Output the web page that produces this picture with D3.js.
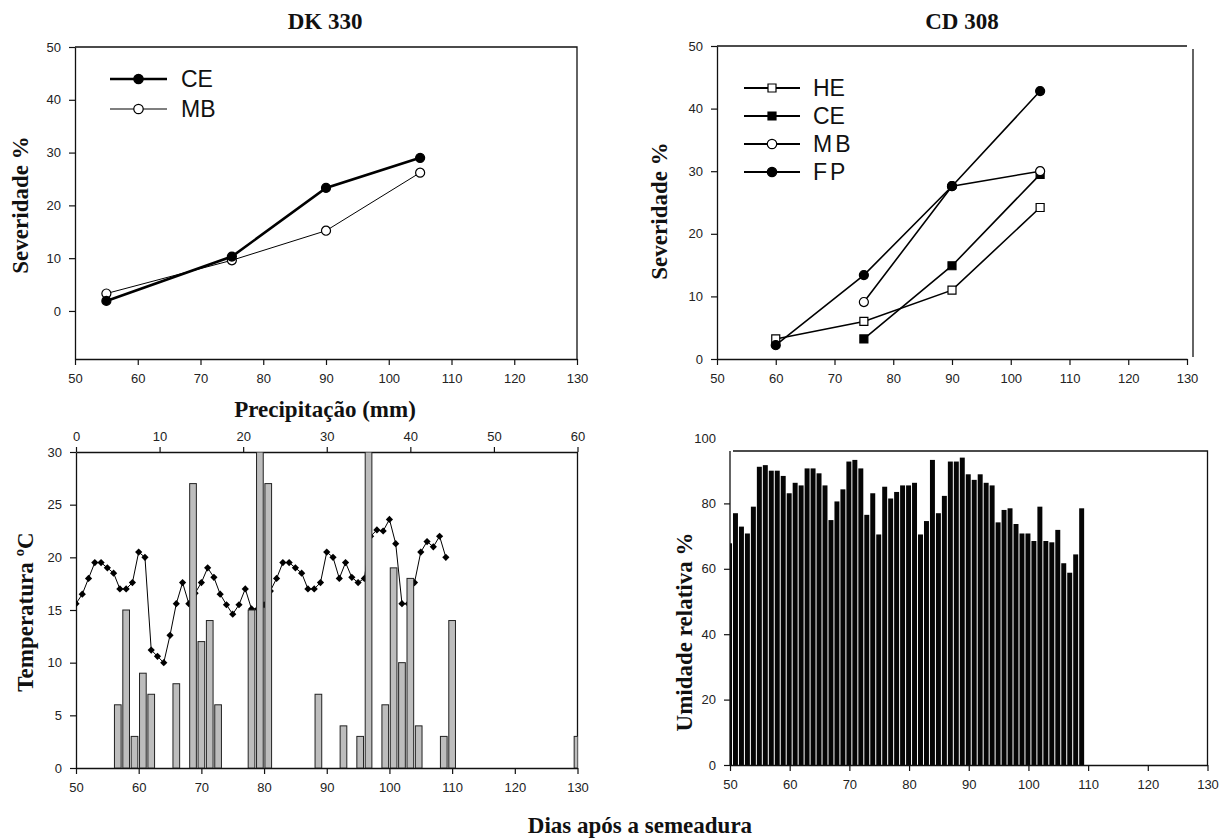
<!DOCTYPE html>
<html>
<head>
<meta charset="utf-8">
<script src="https://cdn.jsdelivr.net/npm/d3@7"></script>
<style>
body { margin: 0; background: #fff; }
.ttl { font-family: "Liberation Serif", "Times New Roman", serif; font-weight: bold; font-size: 23px; fill: #111; }
.leg { font-family: "Liberation Sans", Arial, sans-serif; font-size: 23px; fill: #111; }
</style>
</head>
<body>
<svg id="c" width="1228" height="838"></svg>
<script>
// severidade DK 330
var dkDias = [55, 75, 90, 105];
var dkCE = [1.9, 10.3, 23.3, 29.0];
var dkMB = [3.3, 9.6, 15.2, 26.2];

// severidade CD 308
var cdDias = [60, 75, 90, 105];
var cdHE = [3.2, 6.0, 11.0, 24.2];
var cdCE = [null, 3.2, 14.9, 29.5];
var cdMB = [null, 9.1, 27.6, 30.0];
var cdFP = [2.2, 13.4, 27.6, 42.8];

// temperatura diaria (dias apos semeadura)
var tDias = [50, 51, 52, 53, 54, 55, 56, 57, 58, 59, 60, 61, 62, 63, 64, 65, 66, 67, 68, 69,
             70, 71, 72, 73, 74, 75, 76, 77, 78, 79, 80, 81, 82, 83, 84, 85, 86, 87, 88, 89,
             90, 91, 92, 93, 94, 95, 96, 97, 98, 99, 100, 101, 102, 103, 104, 105, 106, 107, 108, 109];
var tempC = [15.6, 16.5, 18.0, 19.5, 19.5, 19.0, 18.5, 17.0, 17.0, 17.6, 20.5, 20.0, 11.2, 10.6, 10.0, 12.6, 15.6, 17.6, 15.6, 16.6,
             17.6, 19.0, 18.1, 16.5, 15.5, 14.6, 15.5, 17.0, 15.1, 15.1, 15.5, 16.8, 18.0, 19.5, 19.5, 19.0, 18.5, 17.0, 17.0, 17.6,
             20.5, 20.0, 18.0, 19.5, 18.1, 17.6, 18.0, 22.0, 22.6, 22.5, 23.6, 21.3, 15.6, 15.6, 17.6, 20.5, 21.5, 21.0, 22.0, 20.0];

// precipitacao (eixo superior)
var chuvaPos = [5, 6, 7, 8, 9, 12, 14, 15, 16, 17, 21, 22, 23, 29, 32, 34, 35, 37, 38, 39, 40, 41, 44, 45, 60];
var chuvaMm = [6, 15, 3, 9, 7, 8, 27, 12, 14, 6, 15, 30, 27, 7, 4, 3, 30, 6, 19, 10, 18, 4, 3, 14, 3];

// umidade relativa
var uDias = tDias;
var umid = [67.8, 77.0, 72.9, 70.8, 79.0, 91.2, 91.7, 90.0, 90.0, 88.4, 83.1, 86.3, 85.5, 90.7, 90.7, 89.2, 85.5, 74.9, 80.6, 84.3,
            92.8, 93.3, 90.7, 76.5, 83.1, 70.5, 85.1, 81.5, 83.5, 85.5, 85.5, 86.3, 70.5, 74.6, 93.3, 77.0, 82.3, 92.8, 92.8, 94.0,
            88.9, 87.2, 88.9, 86.3, 85.5, 74.2, 78.0, 78.5, 73.7, 70.8, 70.8, 68.5, 79.0, 68.5, 68.1, 71.9, 61.7, 58.8, 64.4, 78.5];

var diasTicks = [50, 60, 70, 80, 90, 100, 110, 120, 130];
var sevTicks = [0, 10, 20, 30, 40, 50];
var chuvaTicks = [0, 10, 20, 30, 40, 50, 60];
var tempTicks = [0, 5, 10, 15, 20, 25, 30];
var umidTicks = [0, 20, 40, 60, 80, 100];

var svg = d3.select("#c");

function estilo(g) {
    g.selectAll("path.domain").attr("stroke", "#111").attr("stroke-width", 1.3);
    g.selectAll(".tick line").attr("stroke", "#111").attr("stroke-width", 1.2);
    g.selectAll(".tick text").attr("fill", "#222").style("font-size", "13px")
        .style("font-family", '"Liberation Sans", Arial, sans-serif');
}

function borda(g, d) {
    g.append("path").attr("d", d).attr("fill", "none").attr("stroke", "#111").attr("stroke-width", 1.3);
}

function marca(g, tipo, cheio, x, y, tam) {
    var s = g.append("path").attr("transform", "translate(" + x + "," + y + ")")
        .attr("d", d3.symbol().type(tipo).size(tam)())
        .attr("fill", cheio ? "#000" : "#fff").attr("stroke", "#000").attr("stroke-width", 1.2);
    return s;
}

function serie(g, xs, ys, xsc, ysc, larg, tipo, cheio, tam) {
    var pts = xs.map(function(d, i) { return [d, ys[i]]; }).filter(function(p) { return p[1] != null; });
    g.append("path").datum(pts)
        .attr("d", d3.line().x(function(p) { return xsc(p[0]); }).y(function(p) { return ysc(p[1]); }))
        .attr("fill", "none").attr("stroke", "#000").attr("stroke-width", larg);
    pts.forEach(function(p) { marca(g, tipo, cheio, xsc(p[0]), ysc(p[1]), tam); });
}

function legenda(g, itens, x0, x1, xt, ys) {
    itens.forEach(function(it, i) {
        g.append("line").attr("x1", x0).attr("x2", x1).attr("y1", ys[i]).attr("y2", ys[i])
            .attr("stroke", "#000").attr("stroke-width", it.larg);
        marca(g, it.tipo, it.cheio, (x0 + x1) / 2, ys[i], it.tam);
        g.append("text").attr("class", "leg").attr("x", xt).attr("y", ys[i]).attr("dy", "0.36em")
            .style("letter-spacing", it.esp || "0px").text(it.nome);
    });
}

function rotulo(x, y, txt, rot) {
    var t = svg.append("text").attr("class", "ttl").attr("text-anchor", "middle");
    if (rot) {
        t.attr("transform", "translate(" + x + "," + y + ") rotate(-90)");
    } else {
        t.attr("x", x).attr("y", y);
    }
    t.text(txt);
}

// ---- DK 330 ----
var x1 = d3.scaleLinear().domain([50, 130]).range([75, 577]);
var y1 = d3.scaleLinear().domain([-9.1, 50]).range([359, 47]);
var g1 = svg.append("g");
borda(g1, "M" + x1(50) + "," + y1(50) + "H" + x1(130) + "V" + y1(-9.1));
g1.append("g").attr("transform", "translate(0," + y1(-9.1) + ")")
    .call(d3.axisBottom(x1).tickValues(diasTicks).tickSize(6).tickPadding(9).tickSizeOuter(0)).call(estilo);
g1.append("g").attr("transform", "translate(" + x1(50) + ",0)")
    .call(d3.axisLeft(y1).tickValues(sevTicks).tickSize(6).tickPadding(8).tickSizeOuter(0)).call(estilo);
serie(g1, dkDias, dkMB, x1, y1, 1, d3.symbolCircle, false, 64);
serie(g1, dkDias, dkCE, x1, y1, 2.6, d3.symbolCircle, true, 64);
legenda(g1, [
    {nome: "CE", tipo: d3.symbolCircle, cheio: true, larg: 2.6, tam: 70},
    {nome: "MB", tipo: d3.symbolCircle, cheio: false, larg: 1.2, tam: 70}
], 110, 167, 181, [79, 109]);
rotulo(325, 29, "DK 330");
rotulo(325, 417, "Precipitação (mm)");
rotulo(28, 205, "Severidade %", true);

// ---- CD 308 ----
var x2 = d3.scaleLinear().domain([50, 130]).range([717, 1187]);
var y2 = d3.scaleLinear().domain([0, 50]).range([359, 46]);
var g2 = svg.append("g");
borda(g2, "M" + x2(50) + "," + y2(50) + "H" + x2(130));
borda(g2, "M" + (x2(130) + 6) + "," + (y2(50) + 3) + "V" + (y2(0) - 2));
g2.append("g").attr("transform", "translate(0," + y2(0) + ")")
    .call(d3.axisBottom(x2).tickValues(diasTicks).tickSize(6).tickPadding(9).tickSizeOuter(0)).call(estilo);
g2.append("g").attr("transform", "translate(" + x2(50) + ",0)")
    .call(d3.axisLeft(y2).tickValues(sevTicks).tickSize(6).tickPadding(8).tickSizeOuter(0)).call(estilo);
serie(g2, cdDias, cdHE, x2, y2, 1.6, d3.symbolSquare, false, 64);
serie(g2, cdDias, cdCE, x2, y2, 1.6, d3.symbolSquare, true, 64);
serie(g2, cdDias, cdMB, x2, y2, 1.6, d3.symbolCircle, false, 64);
serie(g2, cdDias, cdFP, x2, y2, 1.6, d3.symbolCircle, true, 64);
legenda(g2, [
    {nome: "HE", tipo: d3.symbolSquare, cheio: false, larg: 1.8, tam: 64},
    {nome: "CE", tipo: d3.symbolSquare, cheio: true, larg: 1.8, tam: 64},
    {nome: "MB", tipo: d3.symbolCircle, cheio: false, larg: 1.8, tam: 70, esp: "3px"},
    {nome: "FP", tipo: d3.symbolCircle, cheio: true, larg: 1.8, tam: 70, esp: "3px"}
], 744, 800, 813, [88, 116, 144, 172]);
rotulo(962, 29, "CD 308");
rotulo(667, 211, "Severidade %", true);

// ---- temperatura + precipitacao ----
var x3 = d3.scaleLinear().domain([50, 130]).range([76, 577.5]);
var x3t = d3.scaleLinear().domain([0, 60]).range([76, 577.5]);
var y3 = d3.scaleLinear().domain([0, 30]).range([768, 452]);
var g3 = svg.append("g");
svg.append("clipPath").attr("id", "cl3").append("rect")
    .attr("x", x3(50)).attr("y", y3(30)).attr("width", x3(130) - x3(50)).attr("height", y3(0) - y3(30));
borda(g3, "M" + x3(130) + "," + y3(30) + "V" + y3(0));
g3.append("g").attr("transform", "translate(0," + y3(0) + ")")
    .call(d3.axisBottom(x3).tickValues(diasTicks).tickSize(6).tickPadding(9).tickSizeOuter(0)).call(estilo);
g3.append("g").attr("transform", "translate(0," + y3(30) + ")")
    .call(d3.axisTop(x3t).tickValues(chuvaTicks).tickSize(5).tickPadding(6).tickSizeOuter(0)).call(estilo);
g3.append("g").attr("transform", "translate(" + x3(50) + ",0)")
    .call(d3.axisLeft(y3).tickValues(tempTicks).tickSize(6).tickPadding(8).tickSizeOuter(0)).call(estilo);

var pl = g3.append("g").attr("clip-path", "url(#cl3)");
var tPts = tDias.map(function(d, i) { return [d, tempC[i]]; });
pl.append("path").datum(tPts)
    .attr("d", d3.line().x(function(p) { return x3(p[0]); }).y(function(p) { return y3(p[1]); }))
    .attr("fill", "none").attr("stroke", "#000").attr("stroke-width", 1);
pl.selectAll(".tp").data(tPts).enter().append("path").attr("class", "tp")
    .attr("transform", function(p) { return "translate(" + x3(p[0]) + "," + y3(p[1]) + ") rotate(45)"; })
    .attr("d", d3.symbol().type(d3.symbolSquare).size(26)())
    .attr("fill", "#000");
var bw = (x3t(1) - x3t(0)) * 0.8;
pl.selectAll(".ch").data(chuvaPos).enter().append("rect").attr("class", "ch")
    .attr("x", function(d) { return x3t(d) - bw / 2; })
    .attr("y", function(d, i) { return y3(chuvaMm[i]); })
    .attr("width", bw)
    .attr("height", function(d, i) { return y3(0) - y3(chuvaMm[i]); })
    .attr("fill", "#bdbdbd").attr("stroke", "#222").attr("stroke-width", 1);
rotulo(33, 612, "Temperatura ºC", true);

// ---- umidade relativa ----
var x4 = d3.scaleLinear().domain([50, 130]).range([730, 1207.5]);
var y4 = d3.scaleLinear().domain([0, 100]).range([765, 438]);
var topo4 = 451;
var g4 = svg.append("g");
svg.append("clipPath").attr("id", "cl4").append("rect")
    .attr("x", x4(50)).attr("y", topo4).attr("width", x4(130) - x4(50)).attr("height", y4(0) - topo4);
var dw = x4(51) - x4(50);
g4.append("g").attr("clip-path", "url(#cl4)").selectAll("rect").data(uDias).enter().append("rect")
    .attr("x", function(d) { return x4(d) - dw / 2; })
    .attr("y", function(d, i) { return y4(umid[i]); })
    .attr("width", dw - 1)
    .attr("height", function(d, i) { return y4(0) - y4(umid[i]); })
    .attr("fill", "#050505");
borda(g4, "M" + (x4(50) + 3) + "," + topo4 + "H" + x4(130) + "V" + y4(0));
g4.append("g").attr("transform", "translate(0," + y4(0) + ")")
    .call(d3.axisBottom(x4).tickValues(diasTicks).tickSize(6).tickPadding(9).tickSizeOuter(0)).call(estilo);
var ax4 = g4.append("g").attr("transform", "translate(" + x4(50) + ",0)")
    .call(d3.axisLeft(y4).tickValues(umidTicks).tickSize(6).tickPadding(8).tickSizeOuter(0)).call(estilo);
ax4.select("path.domain").remove();
ax4.selectAll(".tick").filter(function(d) { return d == 100; }).select("line").remove();
borda(g4, "M" + x4(50) + "," + topo4 + "V" + y4(0));
rotulo(692, 632, "Umidade relativa %", true);

rotulo(640, 833, "Dias após a semeadura");
</script>
</body>
</html>
